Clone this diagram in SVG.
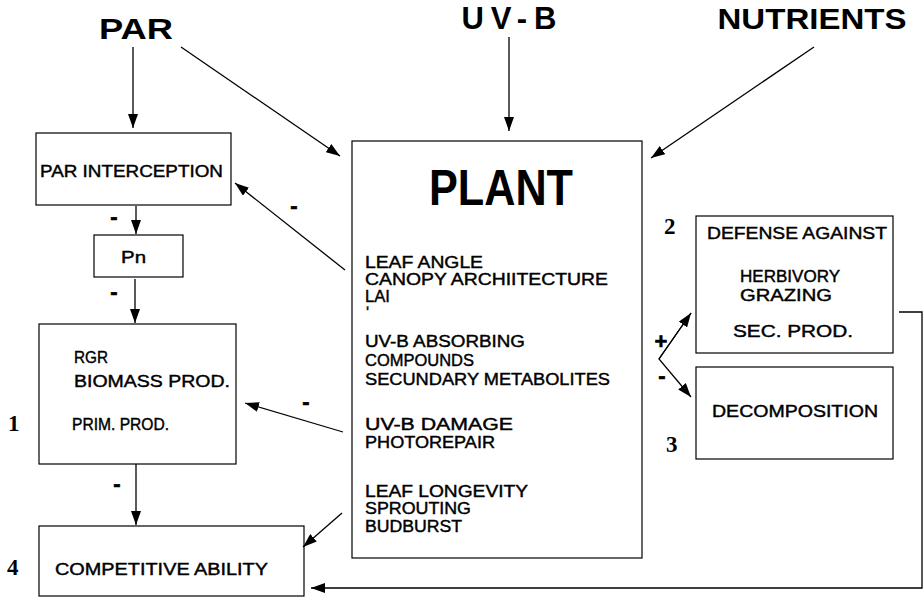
<svg xmlns="http://www.w3.org/2000/svg" width="924" height="608" viewBox="0 0 924 608">
<style>
.box{fill:none;stroke:#000;stroke-width:1.2}
.ln{fill:none;stroke:#000;stroke-width:1.3}
.t{font-family:"Liberation Sans",Arial,sans-serif;font-size:16px;fill:#000;stroke:#000;stroke-width:0.4}
.h{font-family:"Liberation Sans",Arial,sans-serif;font-weight:bold;fill:#000}
.n{font-family:"Liberation Serif","Times New Roman",serif;font-weight:bold;font-size:23px;fill:#000}
.m{font-family:"Liberation Sans",Arial,sans-serif;font-weight:bold;font-size:22px;fill:#000;stroke:#000;stroke-width:0.6}
</style>
<defs>
<marker id="ah" viewBox="0 0 14 10" refX="14" refY="5" markerWidth="14" markerHeight="10" markerUnits="userSpaceOnUse" orient="auto">
<path d="M0,0 L14,5 L0,10 Z" fill="#000"/>
</marker>
</defs>
<rect width="924" height="608" fill="#fff"/>

<g id="par"><text class="h" x="136" y="39" font-size="30" text-anchor="middle" textLength="74" lengthAdjust="spacingAndGlyphs">PAR</text></g>
<g id="uvb"><text class="h" x="509" y="29" font-size="31" text-anchor="middle" textLength="95" lengthAdjust="spacing">UV-B</text></g>
<g id="nutrients"><text class="h" x="812" y="29" font-size="30" text-anchor="middle" textLength="189" lengthAdjust="spacingAndGlyphs">NUTRIENTS</text></g>

<g id="par-interception">
<rect class="box" x="36" y="133" width="195" height="72"/>
<text class="t" x="40" y="177" textLength="183" lengthAdjust="spacingAndGlyphs">PAR INTERCEPTION</text>
</g>

<g id="pn">
<rect class="box" x="94" y="235" width="89" height="42"/>
<text class="t" x="121" y="263" textLength="25" lengthAdjust="spacingAndGlyphs">Pn</text>
</g>

<g id="rgr">
<rect class="box" x="39" y="324" width="197" height="140"/>
<text class="t" x="74" y="363" textLength="34" lengthAdjust="spacingAndGlyphs">RGR</text>
<text class="t" x="74" y="387" textLength="156" lengthAdjust="spacingAndGlyphs">BIOMASS PROD.</text>
<text class="t" x="72" y="430" font-size="17" textLength="97" lengthAdjust="spacingAndGlyphs">PRIM. PROD.</text>
<text class="n" x="8" y="431">1</text>
</g>

<g id="competitive">
<rect class="box" x="39" y="526" width="265" height="70"/>
<text class="t" x="55" y="575" font-size="15" textLength="213" lengthAdjust="spacingAndGlyphs">COMPETITIVE ABILITY</text>
<text class="n" x="7" y="575">4</text>
</g>

<g id="plant">
<rect class="box" x="352" y="141" width="290" height="417"/>
<text class="h" x="429" y="205" font-size="50" textLength="144" lengthAdjust="spacingAndGlyphs">PLANT</text>
<text class="t" x="365" y="268" textLength="118" lengthAdjust="spacingAndGlyphs">LEAF ANGLE</text>
<text class="t" x="365" y="285" textLength="243" lengthAdjust="spacingAndGlyphs">CANOPY ARCHIITECTURE</text>
<text class="t" x="365" y="302" textLength="25" lengthAdjust="spacingAndGlyphs">LAI</text>
<text class="t" x="366" y="318" font-size="9">ʹ</text>
<text class="t" x="365" y="347" textLength="160" lengthAdjust="spacingAndGlyphs">UV-B ABSORBING</text>
<text class="t" x="365" y="366" textLength="109" lengthAdjust="spacingAndGlyphs">COMPOUNDS</text>
<text class="t" x="365" y="385" textLength="245" lengthAdjust="spacingAndGlyphs">SECUNDARY METABOLITES</text>
<text class="t" x="365" y="430" textLength="148" lengthAdjust="spacingAndGlyphs">UV-B DAMAGE</text>
<text class="t" x="365" y="448" textLength="130" lengthAdjust="spacingAndGlyphs">PHOTOREPAIR</text>
<text class="t" x="365" y="497" textLength="163" lengthAdjust="spacingAndGlyphs">LEAF LONGEVITY</text>
<text class="t" x="365" y="514" textLength="106" lengthAdjust="spacingAndGlyphs">SPROUTING</text>
<text class="t" x="365" y="532" textLength="97" lengthAdjust="spacingAndGlyphs">BUDBURST</text>
</g>

<g id="defense">
<rect class="box" x="696" y="216" width="197" height="137"/>
<text class="t" x="707" y="239" textLength="180" lengthAdjust="spacingAndGlyphs">DEFENSE  AGAINST</text>
<text class="t" x="740" y="282" textLength="100" lengthAdjust="spacingAndGlyphs">HERBIVORY</text>
<text class="t" x="740" y="301" textLength="92" lengthAdjust="spacingAndGlyphs">GRAZING</text>
<text class="t" x="733" y="337" textLength="120" lengthAdjust="spacingAndGlyphs">SEC. PROD.</text>
<text class="n" x="664" y="234">2</text>
</g>

<g id="decomposition">
<rect class="box" x="696" y="367" width="197" height="92"/>
<text class="t" x="712" y="417" textLength="166" lengthAdjust="spacingAndGlyphs">DECOMPOSITION</text>
<text class="n" x="666" y="452">3</text>
</g>

<g id="connectors">
<line class="ln" x1="133" y1="47" x2="133" y2="128" marker-end="url(#ah)"/>
<line class="ln" x1="181" y1="47" x2="340" y2="156" marker-end="url(#ah)"/>
<line class="ln" x1="509" y1="37" x2="509" y2="131" marker-end="url(#ah)"/>
<line class="ln" x1="814" y1="47" x2="651" y2="158" marker-end="url(#ah)"/>
<line class="ln" x1="345" y1="270" x2="235" y2="183" marker-end="url(#ah)"/>
<line class="ln" x1="136" y1="206" x2="136" y2="234" marker-end="url(#ah)"/>
<line class="ln" x1="135" y1="279" x2="135" y2="323" marker-end="url(#ah)"/>
<line class="ln" x1="343" y1="432" x2="245" y2="403" marker-end="url(#ah)"/>
<line class="ln" x1="136" y1="464" x2="136" y2="525" marker-end="url(#ah)"/>
<line class="ln" x1="342" y1="513" x2="303" y2="547" marker-end="url(#ah)"/>
<polyline class="ln" points="899,312 922,312 922,588 311,588" marker-end="url(#ah)"/>
<polyline class="ln" points="691,313 659,359 691,397" marker-end="url(#ah)"/>
<line class="ln" x1="659" y1="359" x2="691" y2="313" marker-end="url(#ah)"/>
<text class="m" x="114" y="224" text-anchor="middle">-</text>
<text class="m" x="114" y="299" text-anchor="middle">-</text>
<text class="m" x="294" y="213" text-anchor="middle">-</text>
<text class="m" x="306" y="409" text-anchor="middle">-</text>
<text class="m" x="117" y="491" text-anchor="middle">-</text>
<text class="m" x="662" y="383" text-anchor="middle">-</text>
<text class="m" x="661" y="349" text-anchor="middle">+</text>
</g>
</svg>
